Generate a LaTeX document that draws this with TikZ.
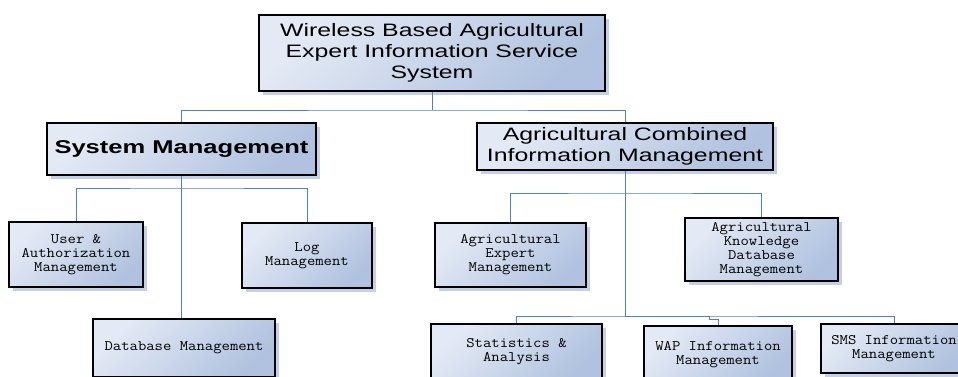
\documentclass[tikz,border=0pt]{standalone}
\usepackage{fontspec}
\newfontfamily\boxsans[FakeStretch=1.38]{Liberation Sans}
\newfontfamily\boxmono[FakeStretch=1.12]{Latin Modern Mono}
\usetikzlibrary{shadows}
\definecolor{boxlight}{RGB}{228,234,245}
\definecolor{boxdark}{RGB}{176,194,223}
\definecolor{shadowblue}{RGB}{196,208,232}
\definecolor{linkblue}{RGB}{79,129,189}
\tikzset{box/.style={draw=black, line width=2.5pt, top color=boxlight, bottom color=boxdark, shading angle=45,
		drop shadow={shadow xshift=4pt, shadow yshift=-4pt, fill=shadowblue, opacity=1},
		align=center, inner sep=2pt},
	%big boxes, sans text
	bigbox/.style={box, font=\boxsans\fontsize{18}{21}\selectfont},
	%small boxes, typewriter text
	smallbox/.style={box, font=\boxmono\fontsize{14.5}{14}\selectfont},
	link/.style={draw=linkblue, line width=0.8pt}}

\begin{document}
\begin{tikzpicture}[x=1pt, y=-1pt]
		\useasboundingbox (0,0) rectangle (958,376);
		% top level
		\node[bigbox, minimum width=346pt, minimum height=76pt] (sysroot) at (432,53)
			{Wireless Based Agricultural\\Expert Information Service\\System};
		% second level
		\node[bigbox, minimum width=269pt, minimum height=52pt, font=\boxsans\bfseries\fontsize{18.5}{21}\selectfont] (sysmgmt) at (181.5,149) {System Management};
		\node[bigbox, minimum width=296pt, minimum height=47pt] (combined) at (625,146.5)
			{Agricultural Combined\\Information Management};
		% under system management
		\node[smallbox, minimum width=134pt, minimum height=65pt] (usermgmt) at (76,254.5) {User \&\\Authorization\\Management};
		\node[smallbox, minimum width=130pt, minimum height=65pt] (logmgmt) at (307,255.5) {Log\\Management};
		\node[smallbox, minimum width=182pt, minimum height=58pt] (dbmgmt) at (184,348) {Database Management};
		% under combined information management
		\node[smallbox, minimum width=151pt, minimum height=64pt] (expertmgmt) at (510.5,255) {Agricultural\\Expert\\Management};
		\node[smallbox, minimum width=153pt, minimum height=63pt] (knowmgmt) at (761.5,249.5) {Agricultural\\Knowledge\\Database\\Management};
		\node[smallbox, minimum width=171pt, minimum height=58pt, text depth=6pt] (statmgmt) at (516.5,353) {Statistics \&\\Analysis};
		\node[smallbox, minimum width=148pt, minimum height=58pt] (wapmgmt) at (718,355) {WAP Information\\Management};
		\node[smallbox, minimum width=146pt, minimum height=49pt] (smsmgmt) at (894,348.5) {SMS Information\\Management};

		% connectors
		\coordinate (rootbus) at (432,110);
		\coordinate (smbus) at (181.5,188);
		\coordinate (cbus) at (625,193);
		\coordinate (statbus) at (625,316);
		\draw[link] (sysroot.south) -- (rootbus);
		\draw[link] (sysmgmt.north) |- (rootbus) -| (combined.north);
		\draw[link] (usermgmt.north) |- (smbus) -| (logmgmt.north);
		\draw[link] (sysmgmt.south) -- (sysmgmt.south |- dbmgmt.north);
		\draw[link] (expertmgmt.north) |- (cbus) -| (knowmgmt.north);
		\draw[link] (combined.south) -- (statbus);
		\draw[link] (statmgmt.north) |- (statbus) -| (smsmgmt.north);
		\draw[link] (wapmgmt.north) -- ++(0,-5) -- ++(-9,0) |- (statbus);
	\end{tikzpicture}
\end{document}
